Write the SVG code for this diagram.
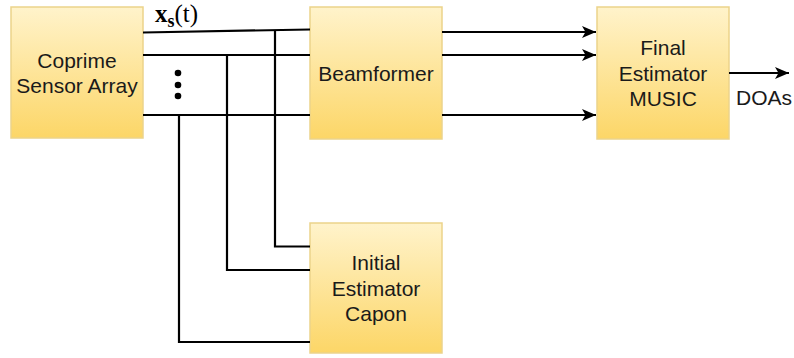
<svg xmlns="http://www.w3.org/2000/svg" width="794" height="358" viewBox="0 0 794 358">
<defs>
<linearGradient id="g" x1="0" y1="0" x2="0" y2="1">
<stop offset="0" stop-color="#fff3cb"/>
<stop offset="1" stop-color="#fcd667"/>
</linearGradient>
<marker id="a" viewBox="0 0 14 12" refX="14" refY="6" markerWidth="14" markerHeight="12" markerUnits="userSpaceOnUse" orient="auto">
<path d="M0,0 L14,6 L0,12 L3.5,6 Z" fill="#000"/>
</marker>
<style>
.box{fill:url(#g);stroke:#ecd38a;stroke-width:1.5}
.t{font-family:"Liberation Sans",Arial,sans-serif;font-size:21px;fill:#1a1a1a;text-anchor:middle}
.w{fill:none;stroke:#000;stroke-width:2.2}
</style>
</defs>
<g id="coprime">
<rect class="box" x="11" y="7" width="132" height="131"/>
<text class="t" x="77" y="68">Coprime</text>
<text class="t" x="77" y="93">Sensor Array</text>
</g>
<g id="beamformer">
<rect class="box" x="310" y="7" width="132" height="132"/>
<text class="t" x="376" y="81">Beamformer</text>
</g>
<g id="final">
<rect class="box" x="597" y="7" width="132" height="132"/>
<text class="t" x="663" y="55">Final</text>
<text class="t" x="663" y="81">Estimator</text>
<text class="t" x="663" y="106">MUSIC</text>
</g>
<g id="initial">
<rect class="box" x="310" y="223" width="132" height="130"/>
<text class="t" x="376" y="270">Initial</text>
<text class="t" x="376" y="296">Estimator</text>
<text class="t" x="376" y="321">Capon</text>
</g>
<g id="connectors">
<path class="w" d="M143,32.5 L310,29.5"/>
<path class="w" d="M143,55 H310"/>
<path class="w" d="M143,115 H310"/>
<path class="w" d="M275,30.3 V246.5 H310"/>
<path class="w" d="M227,55 V270 H310"/>
<path class="w" d="M179,115 V342 H310"/>
<path class="w" d="M442,32 H596" marker-end="url(#a)"/>
<path class="w" d="M442,55 H596" marker-end="url(#a)"/>
<path class="w" d="M442,115 H596" marker-end="url(#a)"/>
<path class="w" d="M729,73 H789" marker-end="url(#a)"/>
</g>
<g id="labels">
<circle cx="178" cy="73" r="3.3" fill="#000"/>
<circle cx="178" cy="85" r="3.3" fill="#000"/>
<circle cx="178" cy="96" r="3.3" fill="#000"/>
<text x="155" y="22" font-family="'Liberation Serif','Times New Roman',serif" font-size="25" fill="#000"><tspan font-weight="bold">x</tspan><tspan font-weight="bold" font-size="18" dy="5">s</tspan><tspan dy="-5">(t)</tspan></text>
<text class="t" x="764" y="105">DOAs</text>
</g>
</svg>
